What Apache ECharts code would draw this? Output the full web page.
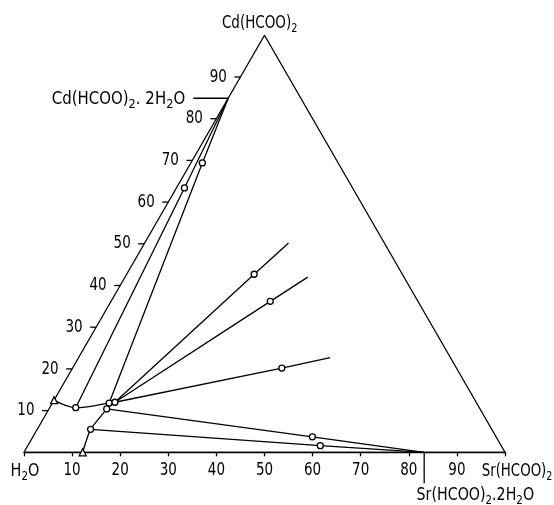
<!DOCTYPE html>
<html>
<head>
<meta charset="utf-8">
<script src="https://cdn.jsdelivr.net/npm/echarts@6/dist/echarts.min.js"></script>
<style>
html,body{margin:0;padding:0;background:#fff;}
#chart{width:554px;height:505px;}
</style>
</head>
<body>
<div id="chart"></div>
<script>
// All compositions are [Sr(HCOO)2 mass %, Cd(HCOO)2 mass %]
const vertexNames = ['H2O', 'Sr(HCOO)2', 'Cd(HCOO)2'];
const vertices = [[0, 0], [100, 0], [0, 100]];
const tickLabels = [10, 20, 30, 40, 50, 60, 70, 80, 90];

const hydrateNames = ['Cd(HCOO)2.2H2O', 'Sr(HCOO)2.2H2O'];
const cdHydrate = [0, 84.9];
const srHydrate = [83.2, 0];

// solubility curves
const cdBranch = [[0, 12.5], [5.4, 10.7], [11.8, 11.8], [12.9, 12.0]];
const srBranch = [[12.2, 0], [11.1, 5.5], [12.0, 10.4], [11.8, 11.8]];

// tie lines: solution point, wet residue, end
const cdTie1 = [[5.4, 10.7], [1.65, 63.4], cdHydrate];
const cdTie2 = [[11.8, 11.8], [2.38, 69.4], cdHydrate];
const fanTie1 = [[12.9, 12.0], [26.5, 42.7], [29.9, 50.2]];
const fanTie2 = [[12.9, 12.0], [33.1, 36.2], [38.0, 42.0]];
const fanTie3 = [[12.9, 12.0], [43.5, 20.2], [52.3, 22.7]];
const srTie1 = [[12.0, 10.4], [58.1, 3.7], srHydrate];
const srTie2 = [[11.1, 5.5], [60.8, 1.6], srHydrate];

const circlePoints = [[5.4, 10.7], [11.8, 11.8], [12.9, 12.0], [12.0, 10.4], [11.1, 5.5],
  [1.65, 63.4], [2.38, 69.4], [26.5, 42.7], [33.1, 36.2], [43.5, 20.2], [58.1, 3.7], [60.8, 1.6]];
const trianglePoints = [[0, 12.5], [12.2, 0]];

// ternary -> cartesian projection (x = Sr + Cd/2, y = Cd)
const proj = p => [p[0] + p[1] / 2, p[1]];

const FONT = "'DejaVu Sans', sans-serif";
const subRich = { s: { fontSize: 13, fontFamily: FONT, padding: [10, 0, 0, 0], color: '#000' } };
const toRich = name => name.replace(/([A-Za-z)])(\d)/g, '$1{s|$2}');

const LW = 1.3;
const lineSeries = (data, smooth) => ({
  type: 'line', data: data.map(proj), smooth: smooth || false, showSymbol: false, symbol: 'none',
  clip: false, silent: true,
  lineStyle: { color: '#000', width: LW }, z: 2
});

const txt = (x, y, text, align, vAlign, size, sx) => ({
  type: 'text', x: x, y: y, scaleX: sx, scaleY: 1,
  style: { text: text, align: align, verticalAlign: vAlign, fontSize: size, fontFamily: FONT, fill: '#000', rich: subRich }
});

const chart = echarts.init(document.getElementById('chart'), null, { renderer: 'canvas' });
chart.setOption({
  animation: false,
  backgroundColor: '#fff',
  grid: { left: 24, top: 35.3, width: 481, height: 417 },
  xAxis: {
    type: 'value', min: 0, max: 100, interval: 10,
    axisLine: { show: true, lineStyle: { color: '#000', width: LW } },
    axisTick: { show: true, inside: false, length: 4, lineStyle: { color: '#000', width: LW } },
    axisLabel: { show: false },
    splitLine: { show: false }
  },
  yAxis: { type: 'value', min: 0, max: 100, show: false, splitLine: { show: false } },
  series: [
    lineSeries(vertices.concat([vertices[0]])),
    lineSeries(cdBranch, 0.35),
    lineSeries(srBranch, 0.2),
    lineSeries(cdTie1), lineSeries(cdTie2),
    lineSeries(fanTie1), lineSeries(fanTie2), lineSeries(fanTie3),
    lineSeries(srTie1), lineSeries(srTie2),
    {
      type: 'scatter', data: circlePoints.map(proj), symbol: 'circle', symbolSize: 6, clip: false,
      itemStyle: { color: '#fff', borderColor: '#000', borderWidth: LW, opacity: 1 }, z: 5, silent: true
    },
    {
      type: 'scatter', data: trianglePoints.map(proj), symbol: 'triangle', symbolSize: 7, clip: false,
      itemStyle: { color: '#fff', borderColor: '#000', borderWidth: LW, opacity: 1 }, z: 5, silent: true
    },
    // bottom (Sr) axis labels
    {
      type: 'custom', silent: true, clip: false, z: 6,
      data: tickLabels.map(v => proj([v, 0]).concat([v])),
      renderItem: (params, api) => {
        const p = api.coord([api.value(0), api.value(1)]);
        return txt(p[0], p[1] + 18, String(api.value(2)), 'center', 'middle', 18, 0.75);
      }
    },
    // left (Cd) axis ticks and labels along the slanted edge
    {
      type: 'custom', silent: true, clip: false, z: 6,
      data: tickLabels.map(v => proj([0, v]).concat([v])),
      renderItem: (params, api) => {
        const p = api.coord([api.value(0), api.value(1)]);
        return {
          type: 'group', children: [
            { type: 'line', shape: { x1: p[0] - 6, y1: p[1], x2: p[0], y2: p[1] }, style: { stroke: '#000', lineWidth: LW } },
            txt(p[0] - 13.5, p[1], String(api.value(2)), 'right', 'middle', 18, 0.75)
          ]
        };
      }
    },
    // hydrate markers
    {
      type: 'custom', silent: true, clip: false, z: 6,
      data: [proj(cdHydrate).concat([0]), proj(srHydrate).concat([1])],
      renderItem: (params, api) => {
        const p = api.coord([api.value(0), api.value(1)]);
        const idx = api.value(2);
        const t = toRich(hydrateNames[idx]);
        if (idx === 0) {
          return {
            type: 'group', children: [
              { type: 'line', shape: { x1: p[0] - 35, y1: p[1], x2: p[0], y2: p[1] }, style: { stroke: '#000', lineWidth: LW } },
              txt(p[0] - 43, p[1] + 1.5, t.replace('{s|2}.', '{s|2}. '), 'right', 'middle', 17, 0.88)
            ]
          };
        }
        return {
          type: 'group', children: [
            { type: 'line', shape: { x1: p[0], y1: p[1], x2: p[0], y2: p[1] + 31 }, style: { stroke: '#000', lineWidth: LW } },
            txt(p[0] - 7.6, p[1] + 43, t, 'left', 'middle', 18, 0.79)
          ]
        };
      }
    },
    // vertex labels
    {
      type: 'custom', silent: true, clip: false, z: 6,
      data: vertices.map((v, i) => proj(v).concat([i])),
      renderItem: (params, api) => {
        const p = api.coord([api.value(0), api.value(1)]);
        const i = api.value(2);
        const t = toRich(vertexNames[i]);
        if (i === 0) return txt(p[0] + 1, p[1] + 19, t, 'center', 'middle', 18, 0.8);
        if (i === 1) return txt(p[0] - 23.3, p[1] + 19, t, 'left', 'middle', 18, 0.74);
        return txt(p[0] - 42.6, p[1] - 12, t, 'left', 'middle', 18, 0.75);
      }
    }
  ]
});
</script>
</body>
</html>
